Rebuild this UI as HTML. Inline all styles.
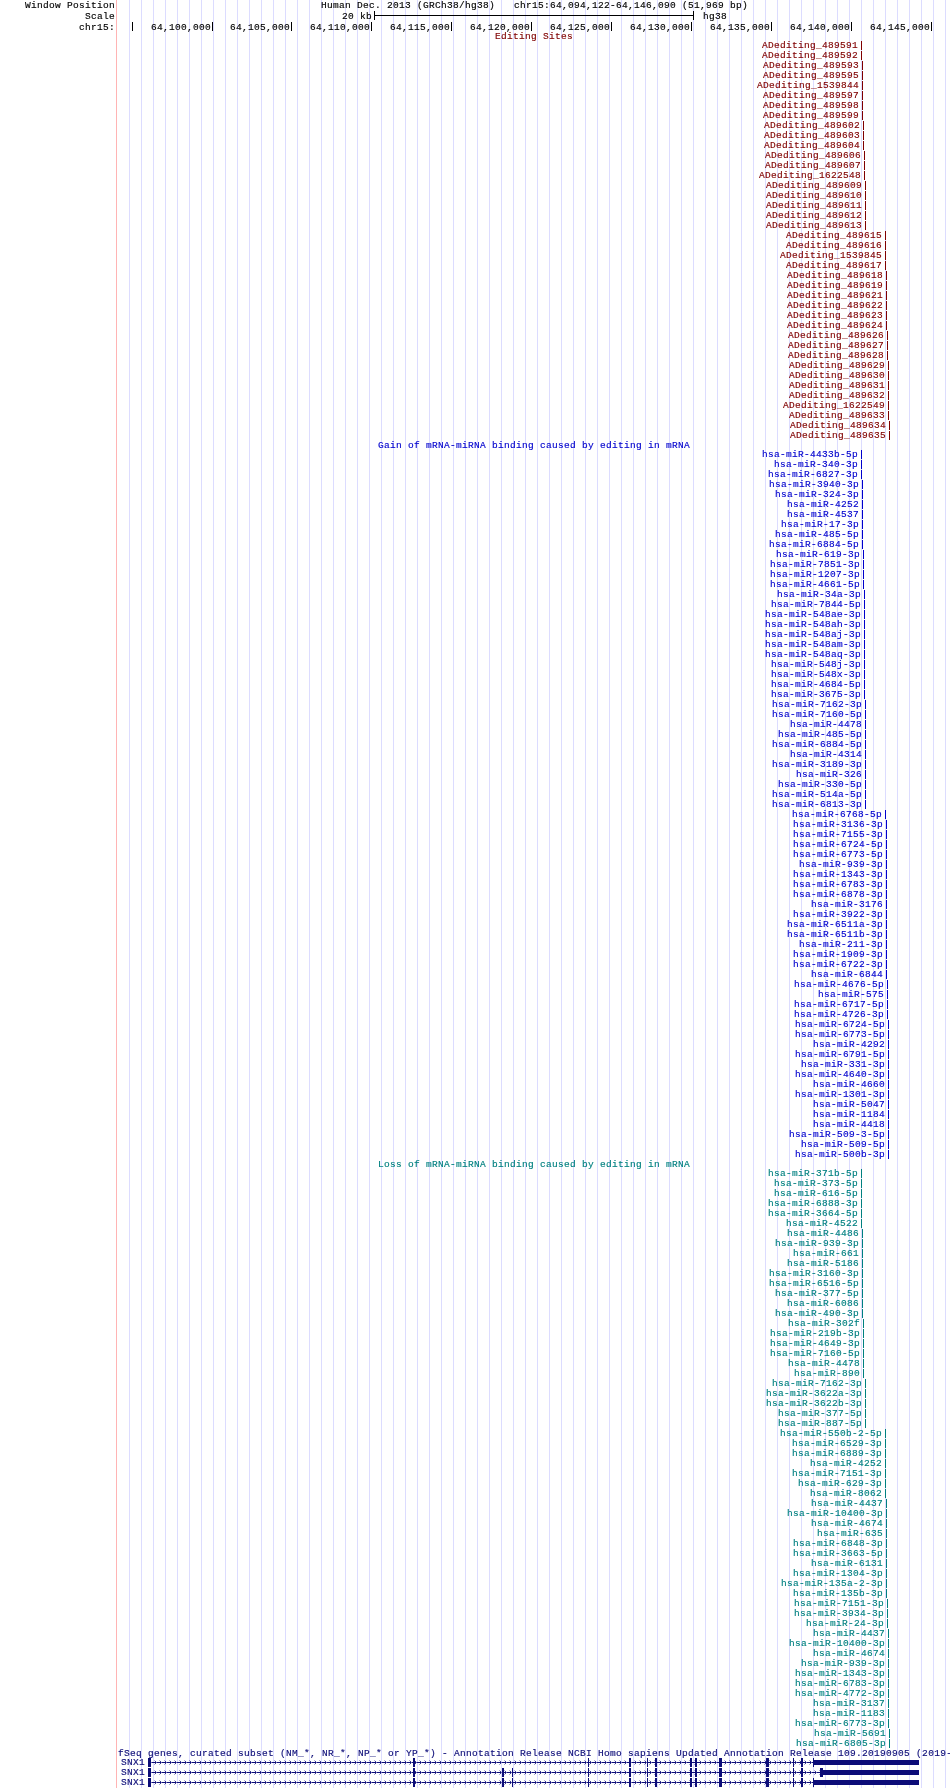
<!DOCTYPE html>
<html><head><meta charset="utf-8"><title>chr15:64,094,122-64,146,090</title>
<style>
html,body{margin:0;padding:0;background:#fff;}
body{width:950px;height:1788px;position:relative;overflow:hidden;font-family:"Liberation Mono",monospace;}
.t{position:absolute;white-space:pre;font-size:9.5px;line-height:12px;height:12px;letter-spacing:0.3px;font-family:"Liberation Mono",monospace;-webkit-text-stroke:0.15px currentColor;}
.r{position:absolute;}
.g{position:absolute;top:0;width:1px;height:1788px;background:#dcdcff;}
#w{position:absolute;left:0;top:0;width:950px;height:1788px;will-change:transform;}
</style></head><body><div id="w">
<div class="g" style="left:129px"></div>
<div class="g" style="left:141px"></div>
<div class="g" style="left:153px"></div>
<div class="g" style="left:165px"></div>
<div class="g" style="left:177px"></div>
<div class="g" style="left:189px"></div>
<div class="g" style="left:201px"></div>
<div class="g" style="left:213px"></div>
<div class="g" style="left:225px"></div>
<div class="g" style="left:237px"></div>
<div class="g" style="left:249px"></div>
<div class="g" style="left:261px"></div>
<div class="g" style="left:273px"></div>
<div class="g" style="left:285px"></div>
<div class="g" style="left:297px"></div>
<div class="g" style="left:309px"></div>
<div class="g" style="left:321px"></div>
<div class="g" style="left:333px"></div>
<div class="g" style="left:345px"></div>
<div class="g" style="left:357px"></div>
<div class="g" style="left:369px"></div>
<div class="g" style="left:381px"></div>
<div class="g" style="left:393px"></div>
<div class="g" style="left:405px"></div>
<div class="g" style="left:417px"></div>
<div class="g" style="left:429px"></div>
<div class="g" style="left:441px"></div>
<div class="g" style="left:453px"></div>
<div class="g" style="left:465px"></div>
<div class="g" style="left:477px"></div>
<div class="g" style="left:489px"></div>
<div class="g" style="left:501px"></div>
<div class="g" style="left:513px"></div>
<div class="g" style="left:525px"></div>
<div class="g" style="left:537px"></div>
<div class="g" style="left:549px"></div>
<div class="g" style="left:561px"></div>
<div class="g" style="left:573px"></div>
<div class="g" style="left:585px"></div>
<div class="g" style="left:597px"></div>
<div class="g" style="left:609px"></div>
<div class="g" style="left:621px"></div>
<div class="g" style="left:633px"></div>
<div class="g" style="left:645px"></div>
<div class="g" style="left:657px"></div>
<div class="g" style="left:669px"></div>
<div class="g" style="left:681px"></div>
<div class="g" style="left:693px"></div>
<div class="g" style="left:705px"></div>
<div class="g" style="left:717px"></div>
<div class="g" style="left:729px"></div>
<div class="g" style="left:741px"></div>
<div class="g" style="left:753px"></div>
<div class="g" style="left:765px"></div>
<div class="g" style="left:777px"></div>
<div class="g" style="left:789px"></div>
<div class="g" style="left:801px"></div>
<div class="g" style="left:813px"></div>
<div class="g" style="left:825px"></div>
<div class="g" style="left:837px"></div>
<div class="g" style="left:849px"></div>
<div class="g" style="left:861px"></div>
<div class="g" style="left:873px"></div>
<div class="g" style="left:885px"></div>
<div class="g" style="left:897px"></div>
<div class="g" style="left:909px"></div>
<div class="g" style="left:921px"></div>
<div class="g" style="left:933px"></div>
<div class="g" style="left:945px"></div>
<div class="g" style="left:116px;background:#ffb4b4"></div>
<div class="t" style="left:25px;top:0px;color:#000">Window Position</div>
<div class="t" style="left:85px;top:11px;color:#000">Scale</div>
<div class="t" style="left:79px;top:22px;color:#000">chr15:</div>
<div class="t" style="left:321px;top:0px;color:#000">Human Dec. 2013 (GRCh38/hg38)</div>
<div class="t" style="left:514px;top:0px;color:#000">chr15:64,094,122-64,146,090 (51,969 bp)</div>
<div class="t" style="left:342px;top:11px;color:#000">20 kb</div>
<div class="r" style="left:374px;top:15px;width:320px;height:1px;background:#000"></div>
<div class="r" style="left:374px;top:11px;width:1px;height:9px;background:#000"></div>
<div class="r" style="left:693px;top:11px;width:1px;height:9px;background:#000"></div>
<div class="t" style="left:703px;top:11px;color:#000">hg38</div>
<div class="r" style="left:132px;top:22px;width:1px;height:9px;background:#000"></div>
<div class="r" style="left:212px;top:22px;width:1px;height:9px;background:#000"></div>
<div class="t" style="left:151px;top:22px;color:#000">64,100,000</div>
<div class="r" style="left:291px;top:22px;width:1px;height:9px;background:#000"></div>
<div class="t" style="left:230px;top:22px;color:#000">64,105,000</div>
<div class="r" style="left:371px;top:22px;width:1px;height:9px;background:#000"></div>
<div class="t" style="left:310px;top:22px;color:#000">64,110,000</div>
<div class="r" style="left:451px;top:22px;width:1px;height:9px;background:#000"></div>
<div class="t" style="left:390px;top:22px;color:#000">64,115,000</div>
<div class="r" style="left:531px;top:22px;width:1px;height:9px;background:#000"></div>
<div class="t" style="left:470px;top:22px;color:#000">64,120,000</div>
<div class="r" style="left:611px;top:22px;width:1px;height:9px;background:#000"></div>
<div class="t" style="left:550px;top:22px;color:#000">64,125,000</div>
<div class="r" style="left:691px;top:22px;width:1px;height:9px;background:#000"></div>
<div class="t" style="left:630px;top:22px;color:#000">64,130,000</div>
<div class="r" style="left:771px;top:22px;width:1px;height:9px;background:#000"></div>
<div class="t" style="left:710px;top:22px;color:#000">64,135,000</div>
<div class="r" style="left:851px;top:22px;width:1px;height:9px;background:#000"></div>
<div class="t" style="left:790px;top:22px;color:#000">64,140,000</div>
<div class="r" style="left:931px;top:22px;width:1px;height:9px;background:#000"></div>
<div class="t" style="left:870px;top:22px;color:#000">64,145,000</div>
<div class="t" style="left:495px;top:31px;color:#800000">Editing Sites</div>
<div class="r" style="left:861px;top:41px;width:1px;height:9px;background:#800000"></div>
<div class="t" style="left:762px;top:40px;color:#800000">ADediting_489591</div>
<div class="r" style="left:861px;top:51px;width:1px;height:9px;background:#800000"></div>
<div class="t" style="left:762px;top:50px;color:#800000">ADediting_489592</div>
<div class="r" style="left:862px;top:61px;width:1px;height:9px;background:#800000"></div>
<div class="t" style="left:763px;top:60px;color:#800000">ADediting_489593</div>
<div class="r" style="left:862px;top:71px;width:1px;height:9px;background:#800000"></div>
<div class="t" style="left:763px;top:70px;color:#800000">ADediting_489595</div>
<div class="r" style="left:862px;top:81px;width:1px;height:9px;background:#800000"></div>
<div class="t" style="left:757px;top:80px;color:#800000">ADediting_1539844</div>
<div class="r" style="left:862px;top:91px;width:1px;height:9px;background:#800000"></div>
<div class="t" style="left:763px;top:90px;color:#800000">ADediting_489597</div>
<div class="r" style="left:862px;top:101px;width:1px;height:9px;background:#800000"></div>
<div class="t" style="left:763px;top:100px;color:#800000">ADediting_489598</div>
<div class="r" style="left:862px;top:111px;width:1px;height:9px;background:#800000"></div>
<div class="t" style="left:763px;top:110px;color:#800000">ADediting_489599</div>
<div class="r" style="left:863px;top:121px;width:1px;height:9px;background:#800000"></div>
<div class="t" style="left:764px;top:120px;color:#800000">ADediting_489602</div>
<div class="r" style="left:863px;top:131px;width:1px;height:9px;background:#800000"></div>
<div class="t" style="left:764px;top:130px;color:#800000">ADediting_489603</div>
<div class="r" style="left:863px;top:141px;width:1px;height:9px;background:#800000"></div>
<div class="t" style="left:764px;top:140px;color:#800000">ADediting_489604</div>
<div class="r" style="left:864px;top:151px;width:1px;height:9px;background:#800000"></div>
<div class="t" style="left:765px;top:150px;color:#800000">ADediting_489606</div>
<div class="r" style="left:864px;top:161px;width:1px;height:9px;background:#800000"></div>
<div class="t" style="left:765px;top:160px;color:#800000">ADediting_489607</div>
<div class="r" style="left:864px;top:171px;width:1px;height:9px;background:#800000"></div>
<div class="t" style="left:759px;top:170px;color:#800000">ADediting_1622548</div>
<div class="r" style="left:865px;top:181px;width:1px;height:9px;background:#800000"></div>
<div class="t" style="left:766px;top:180px;color:#800000">ADediting_489609</div>
<div class="r" style="left:865px;top:191px;width:1px;height:9px;background:#800000"></div>
<div class="t" style="left:766px;top:190px;color:#800000">ADediting_489610</div>
<div class="r" style="left:865px;top:201px;width:1px;height:9px;background:#800000"></div>
<div class="t" style="left:766px;top:200px;color:#800000">ADediting_489611</div>
<div class="r" style="left:865px;top:211px;width:1px;height:9px;background:#800000"></div>
<div class="t" style="left:766px;top:210px;color:#800000">ADediting_489612</div>
<div class="r" style="left:865px;top:221px;width:1px;height:9px;background:#800000"></div>
<div class="t" style="left:766px;top:220px;color:#800000">ADediting_489613</div>
<div class="r" style="left:885px;top:231px;width:1px;height:9px;background:#800000"></div>
<div class="t" style="left:786px;top:230px;color:#800000">ADediting_489615</div>
<div class="r" style="left:885px;top:241px;width:1px;height:9px;background:#800000"></div>
<div class="t" style="left:786px;top:240px;color:#800000">ADediting_489616</div>
<div class="r" style="left:885px;top:251px;width:1px;height:9px;background:#800000"></div>
<div class="t" style="left:780px;top:250px;color:#800000">ADediting_1539845</div>
<div class="r" style="left:885px;top:261px;width:1px;height:9px;background:#800000"></div>
<div class="t" style="left:786px;top:260px;color:#800000">ADediting_489617</div>
<div class="r" style="left:886px;top:271px;width:1px;height:9px;background:#800000"></div>
<div class="t" style="left:787px;top:270px;color:#800000">ADediting_489618</div>
<div class="r" style="left:886px;top:281px;width:1px;height:9px;background:#800000"></div>
<div class="t" style="left:787px;top:280px;color:#800000">ADediting_489619</div>
<div class="r" style="left:886px;top:291px;width:1px;height:9px;background:#800000"></div>
<div class="t" style="left:787px;top:290px;color:#800000">ADediting_489621</div>
<div class="r" style="left:886px;top:301px;width:1px;height:9px;background:#800000"></div>
<div class="t" style="left:787px;top:300px;color:#800000">ADediting_489622</div>
<div class="r" style="left:886px;top:311px;width:1px;height:9px;background:#800000"></div>
<div class="t" style="left:787px;top:310px;color:#800000">ADediting_489623</div>
<div class="r" style="left:886px;top:321px;width:1px;height:9px;background:#800000"></div>
<div class="t" style="left:787px;top:320px;color:#800000">ADediting_489624</div>
<div class="r" style="left:887px;top:331px;width:1px;height:9px;background:#800000"></div>
<div class="t" style="left:788px;top:330px;color:#800000">ADediting_489626</div>
<div class="r" style="left:887px;top:341px;width:1px;height:9px;background:#800000"></div>
<div class="t" style="left:788px;top:340px;color:#800000">ADediting_489627</div>
<div class="r" style="left:887px;top:351px;width:1px;height:9px;background:#800000"></div>
<div class="t" style="left:788px;top:350px;color:#800000">ADediting_489628</div>
<div class="r" style="left:888px;top:361px;width:1px;height:9px;background:#800000"></div>
<div class="t" style="left:789px;top:360px;color:#800000">ADediting_489629</div>
<div class="r" style="left:888px;top:371px;width:1px;height:9px;background:#800000"></div>
<div class="t" style="left:789px;top:370px;color:#800000">ADediting_489630</div>
<div class="r" style="left:888px;top:381px;width:1px;height:9px;background:#800000"></div>
<div class="t" style="left:789px;top:380px;color:#800000">ADediting_489631</div>
<div class="r" style="left:888px;top:391px;width:1px;height:9px;background:#800000"></div>
<div class="t" style="left:789px;top:390px;color:#800000">ADediting_489632</div>
<div class="r" style="left:888px;top:401px;width:1px;height:9px;background:#800000"></div>
<div class="t" style="left:783px;top:400px;color:#800000">ADediting_1622549</div>
<div class="r" style="left:888px;top:411px;width:1px;height:9px;background:#800000"></div>
<div class="t" style="left:789px;top:410px;color:#800000">ADediting_489633</div>
<div class="r" style="left:889px;top:421px;width:1px;height:9px;background:#800000"></div>
<div class="t" style="left:790px;top:420px;color:#800000">ADediting_489634</div>
<div class="r" style="left:889px;top:431px;width:1px;height:9px;background:#800000"></div>
<div class="t" style="left:790px;top:430px;color:#800000">ADediting_489635</div>
<div class="t" style="left:378px;top:440px;color:#0000cd">Gain of mRNA-miRNA binding caused by editing in mRNA</div>
<div class="r" style="left:861px;top:450px;width:1px;height:9px;background:#0000cd"></div>
<div class="t" style="left:762px;top:449px;color:#0000cd">hsa-miR-4433b-5p</div>
<div class="r" style="left:861px;top:460px;width:1px;height:9px;background:#0000cd"></div>
<div class="t" style="left:774px;top:459px;color:#0000cd">hsa-miR-340-3p</div>
<div class="r" style="left:861px;top:470px;width:1px;height:9px;background:#0000cd"></div>
<div class="t" style="left:768px;top:469px;color:#0000cd">hsa-miR-6827-3p</div>
<div class="r" style="left:862px;top:480px;width:1px;height:9px;background:#0000cd"></div>
<div class="t" style="left:769px;top:479px;color:#0000cd">hsa-miR-3940-3p</div>
<div class="r" style="left:862px;top:490px;width:1px;height:9px;background:#0000cd"></div>
<div class="t" style="left:775px;top:489px;color:#0000cd">hsa-miR-324-3p</div>
<div class="r" style="left:862px;top:500px;width:1px;height:9px;background:#0000cd"></div>
<div class="t" style="left:787px;top:499px;color:#0000cd">hsa-miR-4252</div>
<div class="r" style="left:862px;top:510px;width:1px;height:9px;background:#0000cd"></div>
<div class="t" style="left:787px;top:509px;color:#0000cd">hsa-miR-4537</div>
<div class="r" style="left:862px;top:520px;width:1px;height:9px;background:#0000cd"></div>
<div class="t" style="left:781px;top:519px;color:#0000cd">hsa-miR-17-3p</div>
<div class="r" style="left:862px;top:530px;width:1px;height:9px;background:#0000cd"></div>
<div class="t" style="left:775px;top:529px;color:#0000cd">hsa-miR-485-5p</div>
<div class="r" style="left:862px;top:540px;width:1px;height:9px;background:#0000cd"></div>
<div class="t" style="left:769px;top:539px;color:#0000cd">hsa-miR-6884-5p</div>
<div class="r" style="left:863px;top:550px;width:1px;height:9px;background:#0000cd"></div>
<div class="t" style="left:776px;top:549px;color:#0000cd">hsa-miR-619-3p</div>
<div class="r" style="left:863px;top:560px;width:1px;height:9px;background:#0000cd"></div>
<div class="t" style="left:770px;top:559px;color:#0000cd">hsa-miR-7851-3p</div>
<div class="r" style="left:863px;top:570px;width:1px;height:9px;background:#0000cd"></div>
<div class="t" style="left:770px;top:569px;color:#0000cd">hsa-miR-1207-3p</div>
<div class="r" style="left:863px;top:580px;width:1px;height:9px;background:#0000cd"></div>
<div class="t" style="left:770px;top:579px;color:#0000cd">hsa-miR-4661-5p</div>
<div class="r" style="left:864px;top:590px;width:1px;height:9px;background:#0000cd"></div>
<div class="t" style="left:777px;top:589px;color:#0000cd">hsa-miR-34a-3p</div>
<div class="r" style="left:864px;top:600px;width:1px;height:9px;background:#0000cd"></div>
<div class="t" style="left:771px;top:599px;color:#0000cd">hsa-miR-7844-5p</div>
<div class="r" style="left:864px;top:610px;width:1px;height:9px;background:#0000cd"></div>
<div class="t" style="left:765px;top:609px;color:#0000cd">hsa-miR-548ae-3p</div>
<div class="r" style="left:864px;top:620px;width:1px;height:9px;background:#0000cd"></div>
<div class="t" style="left:765px;top:619px;color:#0000cd">hsa-miR-548ah-3p</div>
<div class="r" style="left:864px;top:630px;width:1px;height:9px;background:#0000cd"></div>
<div class="t" style="left:765px;top:629px;color:#0000cd">hsa-miR-548aj-3p</div>
<div class="r" style="left:864px;top:640px;width:1px;height:9px;background:#0000cd"></div>
<div class="t" style="left:765px;top:639px;color:#0000cd">hsa-miR-548am-3p</div>
<div class="r" style="left:864px;top:650px;width:1px;height:9px;background:#0000cd"></div>
<div class="t" style="left:765px;top:649px;color:#0000cd">hsa-miR-548aq-3p</div>
<div class="r" style="left:864px;top:660px;width:1px;height:9px;background:#0000cd"></div>
<div class="t" style="left:771px;top:659px;color:#0000cd">hsa-miR-548j-3p</div>
<div class="r" style="left:864px;top:670px;width:1px;height:9px;background:#0000cd"></div>
<div class="t" style="left:771px;top:669px;color:#0000cd">hsa-miR-548x-3p</div>
<div class="r" style="left:864px;top:680px;width:1px;height:9px;background:#0000cd"></div>
<div class="t" style="left:771px;top:679px;color:#0000cd">hsa-miR-4684-5p</div>
<div class="r" style="left:864px;top:690px;width:1px;height:9px;background:#0000cd"></div>
<div class="t" style="left:771px;top:689px;color:#0000cd">hsa-miR-3675-3p</div>
<div class="r" style="left:865px;top:700px;width:1px;height:9px;background:#0000cd"></div>
<div class="t" style="left:772px;top:699px;color:#0000cd">hsa-miR-7162-3p</div>
<div class="r" style="left:865px;top:710px;width:1px;height:9px;background:#0000cd"></div>
<div class="t" style="left:772px;top:709px;color:#0000cd">hsa-miR-7160-5p</div>
<div class="r" style="left:865px;top:720px;width:1px;height:9px;background:#0000cd"></div>
<div class="t" style="left:790px;top:719px;color:#0000cd">hsa-miR-4478</div>
<div class="r" style="left:865px;top:730px;width:1px;height:9px;background:#0000cd"></div>
<div class="t" style="left:778px;top:729px;color:#0000cd">hsa-miR-485-5p</div>
<div class="r" style="left:865px;top:740px;width:1px;height:9px;background:#0000cd"></div>
<div class="t" style="left:772px;top:739px;color:#0000cd">hsa-miR-6884-5p</div>
<div class="r" style="left:865px;top:750px;width:1px;height:9px;background:#0000cd"></div>
<div class="t" style="left:790px;top:749px;color:#0000cd">hsa-miR-4314</div>
<div class="r" style="left:865px;top:760px;width:1px;height:9px;background:#0000cd"></div>
<div class="t" style="left:772px;top:759px;color:#0000cd">hsa-miR-3189-3p</div>
<div class="r" style="left:865px;top:770px;width:1px;height:9px;background:#0000cd"></div>
<div class="t" style="left:796px;top:769px;color:#0000cd">hsa-miR-326</div>
<div class="r" style="left:865px;top:780px;width:1px;height:9px;background:#0000cd"></div>
<div class="t" style="left:778px;top:779px;color:#0000cd">hsa-miR-330-5p</div>
<div class="r" style="left:865px;top:790px;width:1px;height:9px;background:#0000cd"></div>
<div class="t" style="left:772px;top:789px;color:#0000cd">hsa-miR-514a-5p</div>
<div class="r" style="left:865px;top:800px;width:1px;height:9px;background:#0000cd"></div>
<div class="t" style="left:772px;top:799px;color:#0000cd">hsa-miR-6813-3p</div>
<div class="r" style="left:885px;top:810px;width:1px;height:9px;background:#0000cd"></div>
<div class="t" style="left:792px;top:809px;color:#0000cd">hsa-miR-6768-5p</div>
<div class="r" style="left:886px;top:820px;width:1px;height:9px;background:#0000cd"></div>
<div class="t" style="left:793px;top:819px;color:#0000cd">hsa-miR-3136-3p</div>
<div class="r" style="left:886px;top:830px;width:1px;height:9px;background:#0000cd"></div>
<div class="t" style="left:793px;top:829px;color:#0000cd">hsa-miR-7155-3p</div>
<div class="r" style="left:886px;top:840px;width:1px;height:9px;background:#0000cd"></div>
<div class="t" style="left:793px;top:839px;color:#0000cd">hsa-miR-6724-5p</div>
<div class="r" style="left:886px;top:850px;width:1px;height:9px;background:#0000cd"></div>
<div class="t" style="left:793px;top:849px;color:#0000cd">hsa-miR-6773-5p</div>
<div class="r" style="left:886px;top:860px;width:1px;height:9px;background:#0000cd"></div>
<div class="t" style="left:799px;top:859px;color:#0000cd">hsa-miR-939-3p</div>
<div class="r" style="left:886px;top:870px;width:1px;height:9px;background:#0000cd"></div>
<div class="t" style="left:793px;top:869px;color:#0000cd">hsa-miR-1343-3p</div>
<div class="r" style="left:886px;top:880px;width:1px;height:9px;background:#0000cd"></div>
<div class="t" style="left:793px;top:879px;color:#0000cd">hsa-miR-6783-3p</div>
<div class="r" style="left:886px;top:890px;width:1px;height:9px;background:#0000cd"></div>
<div class="t" style="left:793px;top:889px;color:#0000cd">hsa-miR-6878-3p</div>
<div class="r" style="left:886px;top:900px;width:1px;height:9px;background:#0000cd"></div>
<div class="t" style="left:811px;top:899px;color:#0000cd">hsa-miR-3176</div>
<div class="r" style="left:886px;top:910px;width:1px;height:9px;background:#0000cd"></div>
<div class="t" style="left:793px;top:909px;color:#0000cd">hsa-miR-3922-3p</div>
<div class="r" style="left:886px;top:920px;width:1px;height:9px;background:#0000cd"></div>
<div class="t" style="left:787px;top:919px;color:#0000cd">hsa-miR-6511a-3p</div>
<div class="r" style="left:886px;top:930px;width:1px;height:9px;background:#0000cd"></div>
<div class="t" style="left:787px;top:929px;color:#0000cd">hsa-miR-6511b-3p</div>
<div class="r" style="left:886px;top:940px;width:1px;height:9px;background:#0000cd"></div>
<div class="t" style="left:799px;top:939px;color:#0000cd">hsa-miR-211-3p</div>
<div class="r" style="left:886px;top:950px;width:1px;height:9px;background:#0000cd"></div>
<div class="t" style="left:793px;top:949px;color:#0000cd">hsa-miR-1909-3p</div>
<div class="r" style="left:886px;top:960px;width:1px;height:9px;background:#0000cd"></div>
<div class="t" style="left:793px;top:959px;color:#0000cd">hsa-miR-6722-3p</div>
<div class="r" style="left:886px;top:970px;width:1px;height:9px;background:#0000cd"></div>
<div class="t" style="left:811px;top:969px;color:#0000cd">hsa-miR-6844</div>
<div class="r" style="left:887px;top:980px;width:1px;height:9px;background:#0000cd"></div>
<div class="t" style="left:794px;top:979px;color:#0000cd">hsa-miR-4676-5p</div>
<div class="r" style="left:887px;top:990px;width:1px;height:9px;background:#0000cd"></div>
<div class="t" style="left:818px;top:989px;color:#0000cd">hsa-miR-575</div>
<div class="r" style="left:887px;top:1000px;width:1px;height:9px;background:#0000cd"></div>
<div class="t" style="left:794px;top:999px;color:#0000cd">hsa-miR-6717-5p</div>
<div class="r" style="left:887px;top:1010px;width:1px;height:9px;background:#0000cd"></div>
<div class="t" style="left:794px;top:1009px;color:#0000cd">hsa-miR-4726-3p</div>
<div class="r" style="left:888px;top:1020px;width:1px;height:9px;background:#0000cd"></div>
<div class="t" style="left:795px;top:1019px;color:#0000cd">hsa-miR-6724-5p</div>
<div class="r" style="left:888px;top:1030px;width:1px;height:9px;background:#0000cd"></div>
<div class="t" style="left:795px;top:1029px;color:#0000cd">hsa-miR-6773-5p</div>
<div class="r" style="left:888px;top:1040px;width:1px;height:9px;background:#0000cd"></div>
<div class="t" style="left:813px;top:1039px;color:#0000cd">hsa-miR-4292</div>
<div class="r" style="left:888px;top:1050px;width:1px;height:9px;background:#0000cd"></div>
<div class="t" style="left:795px;top:1049px;color:#0000cd">hsa-miR-6791-5p</div>
<div class="r" style="left:888px;top:1060px;width:1px;height:9px;background:#0000cd"></div>
<div class="t" style="left:801px;top:1059px;color:#0000cd">hsa-miR-331-3p</div>
<div class="r" style="left:888px;top:1070px;width:1px;height:9px;background:#0000cd"></div>
<div class="t" style="left:795px;top:1069px;color:#0000cd">hsa-miR-4640-3p</div>
<div class="r" style="left:888px;top:1080px;width:1px;height:9px;background:#0000cd"></div>
<div class="t" style="left:813px;top:1079px;color:#0000cd">hsa-miR-4660</div>
<div class="r" style="left:888px;top:1090px;width:1px;height:9px;background:#0000cd"></div>
<div class="t" style="left:795px;top:1089px;color:#0000cd">hsa-miR-1301-3p</div>
<div class="r" style="left:888px;top:1100px;width:1px;height:9px;background:#0000cd"></div>
<div class="t" style="left:813px;top:1099px;color:#0000cd">hsa-miR-5047</div>
<div class="r" style="left:888px;top:1110px;width:1px;height:9px;background:#0000cd"></div>
<div class="t" style="left:813px;top:1109px;color:#0000cd">hsa-miR-1184</div>
<div class="r" style="left:888px;top:1120px;width:1px;height:9px;background:#0000cd"></div>
<div class="t" style="left:813px;top:1119px;color:#0000cd">hsa-miR-4418</div>
<div class="r" style="left:888px;top:1130px;width:1px;height:9px;background:#0000cd"></div>
<div class="t" style="left:789px;top:1129px;color:#0000cd">hsa-miR-509-3-5p</div>
<div class="r" style="left:888px;top:1140px;width:1px;height:9px;background:#0000cd"></div>
<div class="t" style="left:801px;top:1139px;color:#0000cd">hsa-miR-509-5p</div>
<div class="r" style="left:888px;top:1150px;width:1px;height:9px;background:#0000cd"></div>
<div class="t" style="left:795px;top:1149px;color:#0000cd">hsa-miR-500b-3p</div>
<div class="t" style="left:378px;top:1159px;color:#008080">Loss of mRNA-miRNA binding caused by editing in mRNA</div>
<div class="r" style="left:861px;top:1169px;width:1px;height:9px;background:#008080"></div>
<div class="t" style="left:768px;top:1168px;color:#008080">hsa-miR-371b-5p</div>
<div class="r" style="left:861px;top:1179px;width:1px;height:9px;background:#008080"></div>
<div class="t" style="left:774px;top:1178px;color:#008080">hsa-miR-373-5p</div>
<div class="r" style="left:861px;top:1189px;width:1px;height:9px;background:#008080"></div>
<div class="t" style="left:774px;top:1188px;color:#008080">hsa-miR-616-5p</div>
<div class="r" style="left:861px;top:1199px;width:1px;height:9px;background:#008080"></div>
<div class="t" style="left:768px;top:1198px;color:#008080">hsa-miR-6888-3p</div>
<div class="r" style="left:861px;top:1209px;width:1px;height:9px;background:#008080"></div>
<div class="t" style="left:768px;top:1208px;color:#008080">hsa-miR-3664-5p</div>
<div class="r" style="left:861px;top:1219px;width:1px;height:9px;background:#008080"></div>
<div class="t" style="left:786px;top:1218px;color:#008080">hsa-miR-4522</div>
<div class="r" style="left:862px;top:1229px;width:1px;height:9px;background:#008080"></div>
<div class="t" style="left:787px;top:1228px;color:#008080">hsa-miR-4486</div>
<div class="r" style="left:862px;top:1239px;width:1px;height:9px;background:#008080"></div>
<div class="t" style="left:775px;top:1238px;color:#008080">hsa-miR-939-3p</div>
<div class="r" style="left:862px;top:1249px;width:1px;height:9px;background:#008080"></div>
<div class="t" style="left:793px;top:1248px;color:#008080">hsa-miR-661</div>
<div class="r" style="left:862px;top:1259px;width:1px;height:9px;background:#008080"></div>
<div class="t" style="left:787px;top:1258px;color:#008080">hsa-miR-5186</div>
<div class="r" style="left:862px;top:1269px;width:1px;height:9px;background:#008080"></div>
<div class="t" style="left:769px;top:1268px;color:#008080">hsa-miR-3160-3p</div>
<div class="r" style="left:862px;top:1279px;width:1px;height:9px;background:#008080"></div>
<div class="t" style="left:769px;top:1278px;color:#008080">hsa-miR-6516-5p</div>
<div class="r" style="left:862px;top:1289px;width:1px;height:9px;background:#008080"></div>
<div class="t" style="left:775px;top:1288px;color:#008080">hsa-miR-377-5p</div>
<div class="r" style="left:862px;top:1299px;width:1px;height:9px;background:#008080"></div>
<div class="t" style="left:787px;top:1298px;color:#008080">hsa-miR-6086</div>
<div class="r" style="left:862px;top:1309px;width:1px;height:9px;background:#008080"></div>
<div class="t" style="left:775px;top:1308px;color:#008080">hsa-miR-490-3p</div>
<div class="r" style="left:863px;top:1319px;width:1px;height:9px;background:#008080"></div>
<div class="t" style="left:788px;top:1318px;color:#008080">hsa-miR-302f</div>
<div class="r" style="left:863px;top:1329px;width:1px;height:9px;background:#008080"></div>
<div class="t" style="left:770px;top:1328px;color:#008080">hsa-miR-219b-3p</div>
<div class="r" style="left:863px;top:1339px;width:1px;height:9px;background:#008080"></div>
<div class="t" style="left:770px;top:1338px;color:#008080">hsa-miR-4649-3p</div>
<div class="r" style="left:863px;top:1349px;width:1px;height:9px;background:#008080"></div>
<div class="t" style="left:770px;top:1348px;color:#008080">hsa-miR-7160-5p</div>
<div class="r" style="left:863px;top:1359px;width:1px;height:9px;background:#008080"></div>
<div class="t" style="left:788px;top:1358px;color:#008080">hsa-miR-4478</div>
<div class="r" style="left:863px;top:1369px;width:1px;height:9px;background:#008080"></div>
<div class="t" style="left:794px;top:1368px;color:#008080">hsa-miR-890</div>
<div class="r" style="left:865px;top:1379px;width:1px;height:9px;background:#008080"></div>
<div class="t" style="left:772px;top:1378px;color:#008080">hsa-miR-7162-3p</div>
<div class="r" style="left:865px;top:1389px;width:1px;height:9px;background:#008080"></div>
<div class="t" style="left:766px;top:1388px;color:#008080">hsa-miR-3622a-3p</div>
<div class="r" style="left:865px;top:1399px;width:1px;height:9px;background:#008080"></div>
<div class="t" style="left:766px;top:1398px;color:#008080">hsa-miR-3622b-3p</div>
<div class="r" style="left:865px;top:1409px;width:1px;height:9px;background:#008080"></div>
<div class="t" style="left:778px;top:1408px;color:#008080">hsa-miR-377-5p</div>
<div class="r" style="left:865px;top:1419px;width:1px;height:9px;background:#008080"></div>
<div class="t" style="left:778px;top:1418px;color:#008080">hsa-miR-887-5p</div>
<div class="r" style="left:885px;top:1429px;width:1px;height:9px;background:#008080"></div>
<div class="t" style="left:780px;top:1428px;color:#008080">hsa-miR-550b-2-5p</div>
<div class="r" style="left:885px;top:1439px;width:1px;height:9px;background:#008080"></div>
<div class="t" style="left:792px;top:1438px;color:#008080">hsa-miR-6529-3p</div>
<div class="r" style="left:885px;top:1449px;width:1px;height:9px;background:#008080"></div>
<div class="t" style="left:792px;top:1448px;color:#008080">hsa-miR-6889-3p</div>
<div class="r" style="left:885px;top:1459px;width:1px;height:9px;background:#008080"></div>
<div class="t" style="left:810px;top:1458px;color:#008080">hsa-miR-4252</div>
<div class="r" style="left:885px;top:1469px;width:1px;height:9px;background:#008080"></div>
<div class="t" style="left:792px;top:1468px;color:#008080">hsa-miR-7151-3p</div>
<div class="r" style="left:885px;top:1479px;width:1px;height:9px;background:#008080"></div>
<div class="t" style="left:798px;top:1478px;color:#008080">hsa-miR-629-3p</div>
<div class="r" style="left:885px;top:1489px;width:1px;height:9px;background:#008080"></div>
<div class="t" style="left:810px;top:1488px;color:#008080">hsa-miR-8062</div>
<div class="r" style="left:886px;top:1499px;width:1px;height:9px;background:#008080"></div>
<div class="t" style="left:811px;top:1498px;color:#008080">hsa-miR-4437</div>
<div class="r" style="left:886px;top:1509px;width:1px;height:9px;background:#008080"></div>
<div class="t" style="left:787px;top:1508px;color:#008080">hsa-miR-10400-3p</div>
<div class="r" style="left:886px;top:1519px;width:1px;height:9px;background:#008080"></div>
<div class="t" style="left:811px;top:1518px;color:#008080">hsa-miR-4674</div>
<div class="r" style="left:886px;top:1529px;width:1px;height:9px;background:#008080"></div>
<div class="t" style="left:817px;top:1528px;color:#008080">hsa-miR-635</div>
<div class="r" style="left:886px;top:1539px;width:1px;height:9px;background:#008080"></div>
<div class="t" style="left:793px;top:1538px;color:#008080">hsa-miR-6848-3p</div>
<div class="r" style="left:886px;top:1549px;width:1px;height:9px;background:#008080"></div>
<div class="t" style="left:793px;top:1548px;color:#008080">hsa-miR-3663-5p</div>
<div class="r" style="left:886px;top:1559px;width:1px;height:9px;background:#008080"></div>
<div class="t" style="left:811px;top:1558px;color:#008080">hsa-miR-6131</div>
<div class="r" style="left:886px;top:1569px;width:1px;height:9px;background:#008080"></div>
<div class="t" style="left:793px;top:1568px;color:#008080">hsa-miR-1304-3p</div>
<div class="r" style="left:886px;top:1579px;width:1px;height:9px;background:#008080"></div>
<div class="t" style="left:781px;top:1578px;color:#008080">hsa-miR-135a-2-3p</div>
<div class="r" style="left:886px;top:1589px;width:1px;height:9px;background:#008080"></div>
<div class="t" style="left:793px;top:1588px;color:#008080">hsa-miR-135b-3p</div>
<div class="r" style="left:887px;top:1599px;width:1px;height:9px;background:#008080"></div>
<div class="t" style="left:794px;top:1598px;color:#008080">hsa-miR-7151-3p</div>
<div class="r" style="left:887px;top:1609px;width:1px;height:9px;background:#008080"></div>
<div class="t" style="left:794px;top:1608px;color:#008080">hsa-miR-3934-3p</div>
<div class="r" style="left:887px;top:1619px;width:1px;height:9px;background:#008080"></div>
<div class="t" style="left:806px;top:1618px;color:#008080">hsa-miR-24-3p</div>
<div class="r" style="left:888px;top:1629px;width:1px;height:9px;background:#008080"></div>
<div class="t" style="left:813px;top:1628px;color:#008080">hsa-miR-4437</div>
<div class="r" style="left:888px;top:1639px;width:1px;height:9px;background:#008080"></div>
<div class="t" style="left:789px;top:1638px;color:#008080">hsa-miR-10400-3p</div>
<div class="r" style="left:888px;top:1649px;width:1px;height:9px;background:#008080"></div>
<div class="t" style="left:813px;top:1648px;color:#008080">hsa-miR-4674</div>
<div class="r" style="left:888px;top:1659px;width:1px;height:9px;background:#008080"></div>
<div class="t" style="left:801px;top:1658px;color:#008080">hsa-miR-939-3p</div>
<div class="r" style="left:888px;top:1669px;width:1px;height:9px;background:#008080"></div>
<div class="t" style="left:795px;top:1668px;color:#008080">hsa-miR-1343-3p</div>
<div class="r" style="left:888px;top:1679px;width:1px;height:9px;background:#008080"></div>
<div class="t" style="left:795px;top:1678px;color:#008080">hsa-miR-6783-3p</div>
<div class="r" style="left:888px;top:1689px;width:1px;height:9px;background:#008080"></div>
<div class="t" style="left:795px;top:1688px;color:#008080">hsa-miR-4772-3p</div>
<div class="r" style="left:888px;top:1699px;width:1px;height:9px;background:#008080"></div>
<div class="t" style="left:813px;top:1698px;color:#008080">hsa-miR-3137</div>
<div class="r" style="left:888px;top:1709px;width:1px;height:9px;background:#008080"></div>
<div class="t" style="left:813px;top:1708px;color:#008080">hsa-miR-1183</div>
<div class="r" style="left:888px;top:1719px;width:1px;height:9px;background:#008080"></div>
<div class="t" style="left:795px;top:1718px;color:#008080">hsa-miR-6773-3p</div>
<div class="r" style="left:889px;top:1729px;width:1px;height:9px;background:#008080"></div>
<div class="t" style="left:814px;top:1728px;color:#008080">hsa-miR-5691</div>
<div class="r" style="left:889px;top:1739px;width:1px;height:9px;background:#008080"></div>
<div class="t" style="left:796px;top:1738px;color:#008080">hsa-miR-6805-3p</div>
<div style="position:absolute;left:118px;top:0;width:832px;height:1788px;overflow:hidden">
<div class="t" style="left:-12px;top:1748px;color:#0c0c78">RefSeq genes, curated subset (NM_*, NR_*, NP_* or YP_*) - Annotation Release NCBI Homo sapiens Updated Annotation Release 109.20190905 (2019-10-24)</div>
</div>
<div class="t" style="left:121px;top:1757px;color:#0c0c78">SNX1</div>
<svg class="r" style="left:148px;top:1758px" width="665" height="9" viewBox="0 0 665 9" shape-rendering="crispEdges"><defs><pattern id="c0" x="1" y="0" width="5" height="9" patternUnits="userSpaceOnUse"><rect x="0" y="2" width="1" height="1" fill="#0c0c78" fill-opacity="0.35"/><rect x="0" y="6" width="1" height="1" fill="#0c0c78" fill-opacity="0.35"/><rect x="1" y="3" width="1" height="1" fill="#0c0c78" fill-opacity="0.8"/><rect x="1" y="5" width="1" height="1" fill="#0c0c78" fill-opacity="0.8"/><rect x="2" y="4" width="1" height="1" fill="#fff" fill-opacity="0.4"/></pattern></defs><rect x="0" y="4" width="665" height="1" fill="#0c0c78"/><rect x="3" y="0" width="662" height="9" fill="url(#c0)"/></svg>
<div class="r" style="left:148px;top:1758px;width:3px;height:9px;background:#0c0c78"></div>
<div class="r" style="left:413px;top:1758px;width:2px;height:9px;background:#0c0c78"></div>
<div class="r" style="left:588px;top:1758px;width:1px;height:9px;background:#0c0c78"></div>
<div class="r" style="left:629px;top:1758px;width:2px;height:9px;background:#0c0c78"></div>
<div class="r" style="left:647px;top:1758px;width:1px;height:9px;background:#0c0c78"></div>
<div class="r" style="left:655px;top:1758px;width:2px;height:9px;background:#0c0c78"></div>
<div class="r" style="left:690px;top:1758px;width:2px;height:9px;background:#0c0c78"></div>
<div class="r" style="left:695px;top:1758px;width:2px;height:9px;background:#0c0c78"></div>
<div class="r" style="left:719px;top:1758px;width:3px;height:9px;background:#0c0c78"></div>
<div class="r" style="left:766px;top:1758px;width:3px;height:9px;background:#0c0c78"></div>
<div class="r" style="left:793px;top:1758px;width:1px;height:9px;background:#0c0c78"></div>
<div class="r" style="left:801px;top:1758px;width:2px;height:9px;background:#0c0c78"></div>
<div class="r" style="left:813px;top:1758px;width:1px;height:9px;background:#0c0c78"></div>
<div class="r" style="left:814px;top:1760px;width:105px;height:5px;background:#0c0c78"></div>
<div class="t" style="left:121px;top:1767px;color:#0c0c78">SNX1</div>
<svg class="r" style="left:148px;top:1768px" width="672" height="9" viewBox="0 0 672 9" shape-rendering="crispEdges"><defs><pattern id="c1" x="1" y="0" width="5" height="9" patternUnits="userSpaceOnUse"><rect x="0" y="2" width="1" height="1" fill="#0c0c78" fill-opacity="0.35"/><rect x="0" y="6" width="1" height="1" fill="#0c0c78" fill-opacity="0.35"/><rect x="1" y="3" width="1" height="1" fill="#0c0c78" fill-opacity="0.8"/><rect x="1" y="5" width="1" height="1" fill="#0c0c78" fill-opacity="0.8"/><rect x="2" y="4" width="1" height="1" fill="#fff" fill-opacity="0.4"/></pattern></defs><rect x="0" y="4" width="672" height="1" fill="#0c0c78"/><rect x="3" y="0" width="669" height="9" fill="url(#c1)"/></svg>
<div class="r" style="left:148px;top:1768px;width:3px;height:9px;background:#0c0c78"></div>
<div class="r" style="left:413px;top:1768px;width:2px;height:9px;background:#0c0c78"></div>
<div class="r" style="left:588px;top:1768px;width:1px;height:9px;background:#0c0c78"></div>
<div class="r" style="left:629px;top:1768px;width:2px;height:9px;background:#0c0c78"></div>
<div class="r" style="left:647px;top:1768px;width:1px;height:9px;background:#0c0c78"></div>
<div class="r" style="left:655px;top:1768px;width:2px;height:9px;background:#0c0c78"></div>
<div class="r" style="left:690px;top:1768px;width:2px;height:9px;background:#0c0c78"></div>
<div class="r" style="left:695px;top:1768px;width:2px;height:9px;background:#0c0c78"></div>
<div class="r" style="left:719px;top:1768px;width:3px;height:9px;background:#0c0c78"></div>
<div class="r" style="left:766px;top:1768px;width:3px;height:9px;background:#0c0c78"></div>
<div class="r" style="left:793px;top:1768px;width:1px;height:9px;background:#0c0c78"></div>
<div class="r" style="left:801px;top:1768px;width:2px;height:9px;background:#0c0c78"></div>
<div class="r" style="left:502px;top:1768px;width:2px;height:9px;background:#0c0c78"></div>
<div class="r" style="left:512px;top:1768px;width:1px;height:9px;background:#0c0c78"></div>
<div class="r" style="left:820px;top:1768px;width:3px;height:9px;background:#0c0c78"></div>
<div class="r" style="left:823px;top:1770px;width:96px;height:5px;background:#0c0c78"></div>
<div class="t" style="left:121px;top:1777px;color:#0c0c78">SNX1</div>
<svg class="r" style="left:148px;top:1778px" width="665" height="9" viewBox="0 0 665 9" shape-rendering="crispEdges"><defs><pattern id="c2" x="1" y="0" width="5" height="9" patternUnits="userSpaceOnUse"><rect x="0" y="2" width="1" height="1" fill="#0c0c78" fill-opacity="0.35"/><rect x="0" y="6" width="1" height="1" fill="#0c0c78" fill-opacity="0.35"/><rect x="1" y="3" width="1" height="1" fill="#0c0c78" fill-opacity="0.8"/><rect x="1" y="5" width="1" height="1" fill="#0c0c78" fill-opacity="0.8"/><rect x="2" y="4" width="1" height="1" fill="#fff" fill-opacity="0.4"/></pattern></defs><rect x="0" y="4" width="665" height="1" fill="#0c0c78"/><rect x="3" y="0" width="662" height="9" fill="url(#c2)"/></svg>
<div class="r" style="left:148px;top:1778px;width:3px;height:9px;background:#0c0c78"></div>
<div class="r" style="left:413px;top:1778px;width:2px;height:9px;background:#0c0c78"></div>
<div class="r" style="left:588px;top:1778px;width:1px;height:9px;background:#0c0c78"></div>
<div class="r" style="left:629px;top:1778px;width:2px;height:9px;background:#0c0c78"></div>
<div class="r" style="left:647px;top:1778px;width:1px;height:9px;background:#0c0c78"></div>
<div class="r" style="left:655px;top:1778px;width:2px;height:9px;background:#0c0c78"></div>
<div class="r" style="left:690px;top:1778px;width:2px;height:9px;background:#0c0c78"></div>
<div class="r" style="left:695px;top:1778px;width:2px;height:9px;background:#0c0c78"></div>
<div class="r" style="left:719px;top:1778px;width:3px;height:9px;background:#0c0c78"></div>
<div class="r" style="left:766px;top:1778px;width:3px;height:9px;background:#0c0c78"></div>
<div class="r" style="left:793px;top:1778px;width:1px;height:9px;background:#0c0c78"></div>
<div class="r" style="left:801px;top:1778px;width:2px;height:9px;background:#0c0c78"></div>
<div class="r" style="left:502px;top:1778px;width:2px;height:9px;background:#0c0c78"></div>
<div class="r" style="left:512px;top:1778px;width:1px;height:9px;background:#0c0c78"></div>
<div class="r" style="left:813px;top:1778px;width:1px;height:9px;background:#0c0c78"></div>
<div class="r" style="left:814px;top:1780px;width:105px;height:5px;background:#0c0c78"></div>
</div></body></html>
